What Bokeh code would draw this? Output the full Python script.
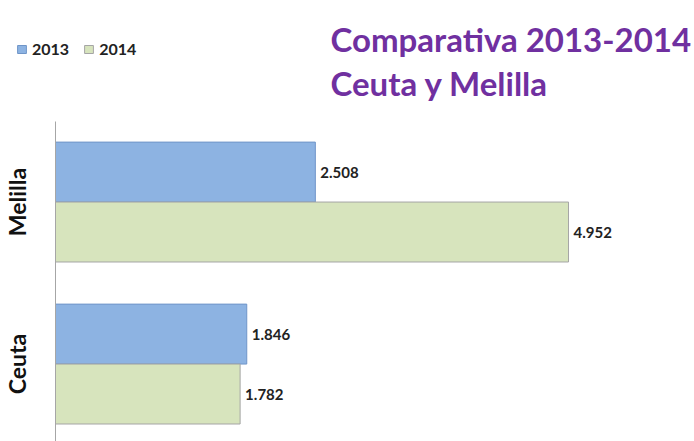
from bokeh.plotting import figure
from bokeh.models import ColumnDataSource, Range1d, Label, Legend, LegendItem, FixedTicker
from bokeh.transform import dodge
from bokeh.core.properties import value
from bokeh.embed import file_html
from bokeh.resources import INLINE

categories = ["Ceuta", "Melilla"]
values_2013 = [1846, 2508]
values_2014 = [1782, 4952]
series = ["2013", "2014"]
title_lines = ["Comparativa 2013-2014", "Ceuta y Melilla"]

def fmt(v):
    return f"{v:,}".replace(",", ".")

ypos = [i + 0.5 for i in range(len(categories))]

src = ColumnDataSource(dict(
    y=ypos,
    v13=values_2013,
    v14=values_2014,
    l13=[fmt(v) for v in values_2013],
    l14=[fmt(v) for v in values_2014],
))

FONT = "Lato"

p = figure(x_range=Range1d(-531, 6168), y_range=Range1d(0.022, 2.744),
           width=694, height=441, x_axis_location=None,
           min_border_left=0, min_border_right=0, min_border_top=0, min_border_bottom=0,
           output_backend="svg", toolbar_location=None,
           background_fill_color="white", border_fill_color="white")
p.outline_line_color = None
p.xgrid.visible = False
p.ygrid.visible = False

yax = p.yaxis[0]
yax.fixed_location = 0
yax.bounds = (0, 2.0)
yax.ticker = FixedTicker(ticks=ypos)
yax.major_label_overrides = {y: c for y, c in zip(ypos, categories)}
yax.axis_line_color = "#a6a6a6"
yax.axis_line_width = 1
yax.major_tick_line_color = None
yax.minor_tick_line_color = None
yax.major_tick_out = 0
yax.major_tick_in = 0
yax.major_label_orientation = "vertical"
yax.major_label_standoff = 24
yax.major_label_text_font = FONT
yax.major_label_text_font_style = "bold"
yax.major_label_text_font_size = "23px"
yax.major_label_text_color = "#111111"

r13 = p.hbar(y=dodge("y", 0.185), right="v13", left=0, height=0.37,
             source=src, fill_color="#8db3e2", line_color="#6f95c8", line_width=1)
r14 = p.hbar(y=dodge("y", -0.185), right="v14", left=0, height=0.37,
             source=src, fill_color="#d7e4bd", line_color="#a5a5a5", line_width=1)

for col, lab, off in (("v13", "l13", 0.185), ("v14", "l14", -0.185)):
    p.text(x=col, y=dodge("y", off), text=lab, source=src,
           x_offset=5, text_baseline="middle", text_align="left",
           text_font=value(FONT), text_font_style="bold", text_font_size="15px",
           text_color="#222222")

legend = Legend(items=[LegendItem(label=series[0], renderers=[r13]),
                       LegendItem(label=series[1], renderers=[r14])],
                orientation="horizontal", location=(16, 383),
                glyph_width=11, glyph_height=10, label_standoff=5, spacing=14,
                padding=0, margin=0, border_line_color=None,
                background_fill_alpha=0, label_text_font=FONT,
                label_text_font_style="bold", label_text_font_size="16px",
                label_text_color="#222222", label_height=12)
p.add_layout(legend, "center")

for t, yb in zip(title_lines, (403, 359)):
    p.add_layout(Label(x=330, y=yb, x_units="screen", y_units="screen", text=t,
                       text_font=FONT, text_font_style="bold", text_font_size="33px",
                       text_color="#7030a0", text_baseline="alphabetic"))

open("out.html", "w").write(file_html(p, INLINE))
